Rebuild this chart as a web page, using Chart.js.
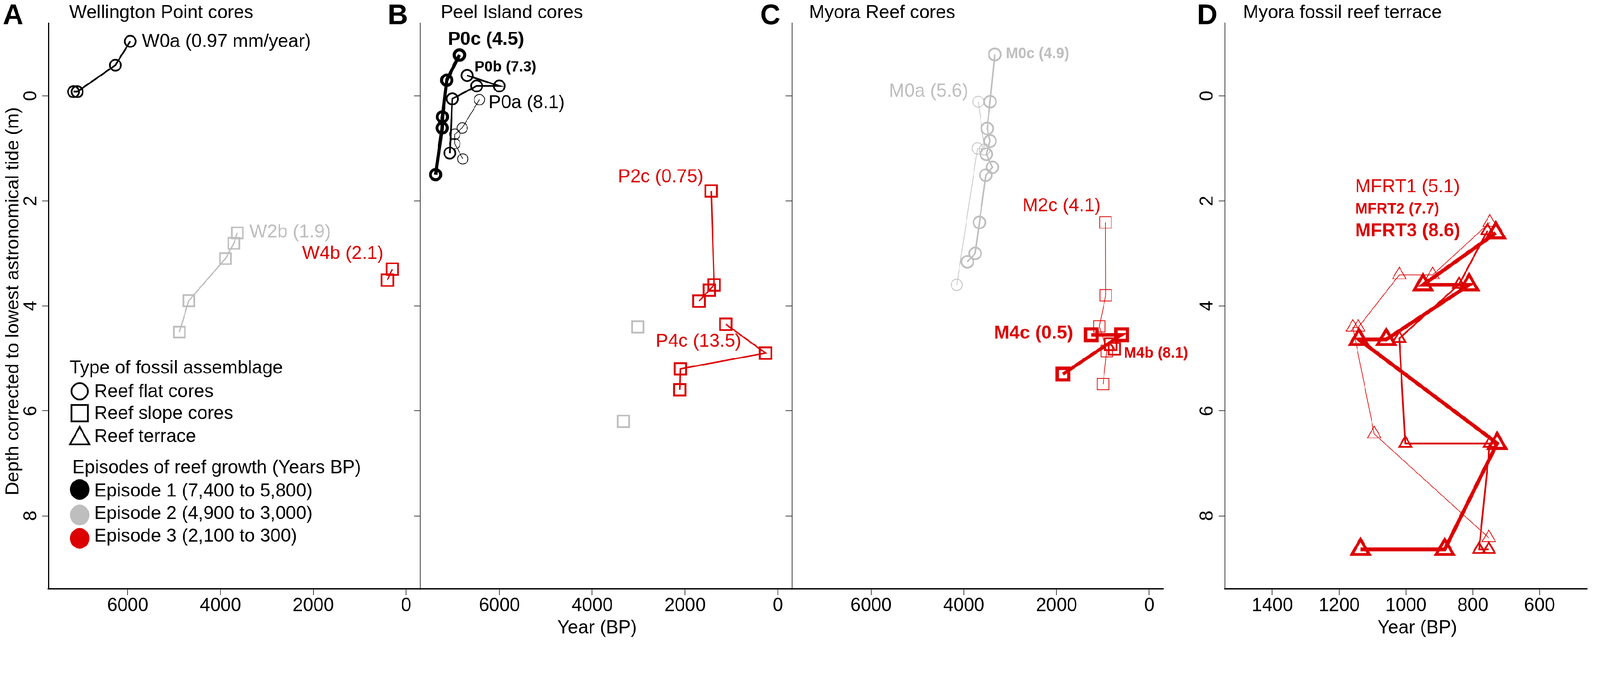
<!DOCTYPE html>
<html><head><meta charset="utf-8">
<script src="https://cdn.jsdelivr.net/npm/chart.js@4.4.1/dist/chart.umd.min.js"></script>
<style>
html,body{margin:0;padding:0;background:#fff;overflow:hidden}
#wrap{position:absolute;left:0;top:0;width:4317px;height:1731px;transform-origin:0 0}
canvas{position:absolute;left:0;top:0}
</style></head><body>
<div id="wrap">
<canvas id="cA" width="4317" height="1731"></canvas>
<canvas id="cB" width="4317" height="1731"></canvas>
<canvas id="cC" width="4317" height="1731"></canvas>
<canvas id="cD" width="4317" height="1731"></canvas>
</div>
<script>
// ---------- tick values / labels ----------
const coreYearTicks = [6000, 4000, 2000, 0];
const coreYearTickLabels = ['6000', '4000', '2000', '0'];
const terraceYearTicks = [1400, 1200, 1000, 800, 600];
const terraceYearTickLabels = ['1400', '1200', '1000', '800', '600'];
const depthTicks = [0, 2, 4, 6, 8];
const depthTickLabels = ['0', '2', '4', '6', '8'];

// ---------- A: Wellington Point cores ----------
const w0aYear = [5945, 6265, 7088, 7167];
const w0aDepth = [-1.04, -0.585, -0.08, -0.08];
const w2bYear = [3637, 3713, 3893, 4683, 4886];
const w2bDepth = [2.61, 2.81, 3.10, 3.90, 4.50];
const w4bYear = [299, 403];
const w4bDepth = [3.30, 3.51];

// ---------- B: Peel Island cores ----------
const p0cYear = [6861, 7135, 7228, 7233, 7375];
const p0cDepth = [-0.78, -0.30, 0.40, 0.61, 1.50];
const p0bYear = [6696, 6003, 6491, 7015, 7069];
const p0bDepth = [-0.39, -0.19, -0.19, 0.055, 1.09];
const p0aYear = [6430, 6802, 6962, 6962, 6789];
const p0aDepth = [0.07, 0.61, 0.73, 0.91, 1.20];
const p2cYear = [1438, 1373, 1477, 1699];
const p2cDepth = [1.81, 3.60, 3.70, 3.91];
const p4cYear = [1122, 265, 2100, 2113];
const p4cDepth = [4.35, 4.90, 5.20, 5.60];
const peelEp2Year = [3019, 3329];
const peelEp2Depth = [4.40, 6.20];

// ---------- C: Myora Reef cores ----------
const m0cYear = [3332, 3434, 3495, 3434, 3516, 3383, 3525, 3663, 3755, 3923];
const m0cDepth = [-0.79, 0.11, 0.62, 0.86, 1.11, 1.36, 1.51, 2.41, 3.00, 3.16];
const m0aYear = [3688, 3551, 3704, 4152];
const m0aDepth = [0.11, 1.02, 1.00, 3.60];
const m2cYear = [943, 938, 1076, 916, 996];
const m2cDepth = [2.41, 3.80, 4.39, 4.86, 5.49];
const m4cYear = [1249, 597, 1862];
const m4cDepth = [4.55, 4.55, 5.30];
const m4bYear = [832, 752];
const m4bDepth = [4.73, 4.82];

// ---------- D: Myora fossil reef terrace ----------
const mfrt1Year = [749, 920, 1020, 1143, 1159, 1095, 752];
const mfrt1Depth = [2.41, 3.41, 3.41, 4.41, 4.41, 6.44, 8.42];
const mfrt2Year = [756, 841, 1020, 1002, 749, 781, 752];
const mfrt2Depth = [2.57, 3.59, 4.62, 6.62, 6.62, 8.64, 8.64];
const mfrt3Year = [731, 949, 811, 1059, 1141, 727, 884, 1136];
const mfrt3Depth = [2.61, 3.60, 3.60, 4.64, 4.64, 6.62, 8.64, 8.64];

// ---------- styling ----------
const FONT = '"Liberation Sans", Arial, Helvetica, sans-serif';
const BLACK = '#000000', GRAY = '#BEBEBE', RED = '#DC0000';
const W = 4317, H = 1731;
const PLOT_TOP = 62, PLOT_BOTTOM = 1589;
const DEPTH_MIN = -1.39, DEPTH_MAX = 9.39;

(function fit() {
  const vw = document.documentElement.clientWidth || window.innerWidth || W;
  const vh = window.innerHeight || document.documentElement.clientHeight || H;
  const s = Math.min(vw / W, vh / H);
  if (s > 0 && Math.abs(s - 1) > 0.001) {
    document.getElementById('wrap').style.transform = 'scale(' + s + ')';
  }
})();

function font(size, bold) { return (bold ? 'bold ' : '') + size + 'px ' + FONT; }
function pts(xs, ys) { return xs.map((x, i) => ({x: x, y: ys[i]})); }
function ds(label, xs, ys, color, style, radius, markerW, lineW, showLine) {
  return {
    label: label, data: pts(xs, ys), showLine: showLine !== false,
    borderColor: color, borderWidth: lineW, backgroundColor: 'rgba(0,0,0,0)',
    pointStyle: style, pointRadius: radius, pointHoverRadius: radius,
    pointBorderWidth: markerW, pointBorderColor: color,
    pointBackgroundColor: 'rgba(0,0,0,0)', fill: false, tension: 0, clip: false
  };
}

const panels = [
  {
    id: 'cA', letter: 'A', letterX: 8, title: 'Wellington Point cores', titleX: 187,
    left: 131, right: 1134, xMin: -305, xMax: 7705, yBorder: 3, yLabels: true, yTitle: true, legend: true,
    xTicks: coreYearTicks, xTickLabels: coreYearTickLabels,
    datasets: [
      ds('W0a', w0aYear, w0aDepth, BLACK, 'circle', 15, 4.5, 4.5),
      ds('W2b', w2bYear, w2bDepth, GRAY, 'rect', 21, 4.5, 3.5),
      ds('W4b', w4bYear, w4bDepth, RED, 'rect', 22, 4.5, 3.5)
    ],
    labels: [
      {t: 'W0a (0.97 mm/year)', x: 5690, y: -1.03, c: BLACK, s: 50, b: false},
      {t: 'W2b (1.9)', x: 3374, y: 2.60, c: GRAY, s: 50, b: false},
      {t: 'W4b (2.1)', x: 2240, y: 3.01, c: RED, s: 50, b: false}
    ]
  },
  {
    id: 'cB', letter: 'B', letterX: 1046, title: 'Peel Island cores', titleX: 1189,
    left: 1134, right: 2137, xMin: -305, xMax: 7705, yBorder: 1.5,
    xTicks: coreYearTicks, xTickLabels: coreYearTickLabels, xTitle: 'Year (BP)', xTitleX: 1611,
    datasets: [
      ds('P0c', p0cYear, p0cDepth, BLACK, 'circle', 14, 8, 9),
      ds('P0b', p0bYear, p0bDepth, BLACK, 'circle', 15, 4.5, 4.5),
      ds('P0a', p0aYear, p0aDepth, BLACK, 'circle', 14, 2, 1.7),
      ds('P2c', p2cYear, p2cDepth, RED, 'rect', 22, 5, 4),
      ds('P4c', p4cYear, p4cDepth, RED, 'rect', 22, 5, 4),
      ds('Peel episode 2', peelEp2Year, peelEp2Depth, GRAY, 'rect', 22, 4.5, 3, false)
    ],
    labels: [
      {t: 'P0c (4.5)', x: 7111, y: -1.07, c: BLACK, s: 50, b: true},
      {t: 'P0b (7.3)', x: 6536, y: -0.54, c: BLACK, s: 40, b: true},
      {t: 'P0a (8.1)', x: 6233, y: 0.135, c: BLACK, s: 50, b: false},
      {t: 'P2c (0.75)', x: 3445, y: 1.55, c: RED, s: 50, b: false},
      {t: 'P4c (13.5)', x: 2631, y: 4.68, c: RED, s: 50, b: false}
    ]
  },
  {
    id: 'cC', letter: 'C', letterX: 2051, title: 'Myora Reef cores', titleX: 2183,
    left: 2137, right: 3139, xMin: -305, xMax: 7705, yBorder: 1.5,
    xTicks: coreYearTicks, xTickLabels: coreYearTickLabels,
    datasets: [
      ds('M4c', m4cYear, m4cDepth, RED, 'rect', 22, 9, 9),
      ds('M4b', m4bYear, m4bDepth, RED, 'rect', 22, 4.5, 4.5),
      ds('M2c', m2cYear, m2cDepth, RED, 'rect', 22, 2, 1.7),
      ds('M0c', m0cYear, m0cDepth, GRAY, 'circle', 16, 4.5, 4),
      ds('M0a', m0aYear, m0aDepth, GRAY, 'circle', 15, 2, 1.7)
    ],
    labels: [
      {t: 'M0c (4.9)', x: 3094, y: -0.80, c: GRAY, s: 40, b: true},
      {t: 'M0a (5.6)', x: 5614, y: -0.08, c: GRAY, s: 50, b: false},
      {t: 'M2c (4.1)', x: 2735, y: 2.10, c: RED, s: 50, b: false},
      {t: 'M4c (0.5)', x: 3350, y: 4.53, c: RED, s: 50, b: true},
      {t: 'M4b (8.1)', x: 547, y: 4.91, c: RED, s: 40, b: true}
    ]
  },
  {
    id: 'cD', letter: 'D', letterX: 3230, title: 'Myora fossil reef terrace', titleX: 3354,
    left: 3305, right: 4310, xMin: 458, xMax: 1542, yBorder: 1.5, yLabels: true,
    xTicks: terraceYearTicks, xTickLabels: terraceYearTickLabels, xTitle: 'Year (BP)', xTitleX: 3824,
    datasets: [
      ds('MFRT3', mfrt3Year, mfrt3Depth, RED, 'triangle', 27, 8, 10),
      ds('MFRT2', mfrt2Year, mfrt2Depth, RED, 'triangle', 19, 4.5, 4.5),
      ds('MFRT1', mfrt1Year, mfrt1Depth, RED, 'triangle', 21, 2, 1.7)
    ],
    labels: [
      {t: 'MFRT1 (5.1)', x: 1152, y: 1.74, c: RED, s: 50, b: false},
      {t: 'MFRT2 (7.7)', x: 1152, y: 2.16, c: RED, s: 40, b: true},
      {t: 'MFRT3 (8.6)', x: 1152, y: 2.58, c: RED, s: 50, b: true}
    ]
  }
];

function drawLegend(ctx) {
  ctx.save();
  ctx.fillStyle = BLACK; ctx.strokeStyle = BLACK; ctx.lineWidth = 4.5;
  ctx.font = font(50, false); ctx.textAlign = 'left'; ctx.textBaseline = 'middle';
  ctx.fillText('Type of fossil assemblage', 188, 994);
  ctx.beginPath(); ctx.arc(215, 1056, 22, 0, Math.PI * 2); ctx.stroke();
  ctx.fillText('Reef flat cores', 254, 1058);
  ctx.strokeRect(215 - 22, 1115 - 22, 44, 44);
  ctx.fillText('Reef slope cores', 254, 1117);
  ctx.beginPath(); ctx.moveTo(215, 1152); ctx.lineTo(241, 1199); ctx.lineTo(189, 1199); ctx.closePath(); ctx.stroke();
  ctx.fillText('Reef terrace', 254, 1179);
  ctx.fillText('Episodes of reef growth (Years BP)', 195, 1263);
  const eps = [[BLACK, 1321, 'Episode 1 (7,400 to 5,800)', 1326],
               [GRAY, 1390, 'Episode 2 (4,900 to 3,000)', 1387],
               [RED, 1453, 'Episode 3 (2,100 to 300)', 1448]];
  eps.forEach(e => {
    ctx.fillStyle = e[0]; ctx.beginPath(); ctx.ellipse(215, e[1], 26, 28, 0, 0, Math.PI * 2); ctx.fill();
    ctx.fillStyle = BLACK; ctx.fillText(e[2], 254, e[3]);
  });
  ctx.restore();
}

function drawPanelText(chart, p) {
  const ctx = chart.ctx, xs = chart.scales.x, ys = chart.scales.y;
  ctx.save();
  ctx.fillStyle = BLACK; ctx.textAlign = 'left'; ctx.textBaseline = 'alphabetic';
  ctx.font = font(76, true); ctx.fillText(p.letter, p.letterX, 65);
  ctx.font = font(50, false); ctx.fillText(p.title, p.titleX, 49);
  if (p.yLabels) {
    ctx.font = font(50, false); ctx.textAlign = 'center';
    depthTicks.forEach((v, i) => {
      const py = ys.getPixelForValue(v);
      ctx.save(); ctx.translate(chart.chartArea.left - 33, py); ctx.rotate(-Math.PI / 2);
      ctx.fillText(depthTickLabels[i], 0, 0); ctx.restore();
    });
  }
  if (p.yTitle) {
    ctx.save(); ctx.translate(50, 813); ctx.rotate(-Math.PI / 2);
    ctx.textAlign = 'center'; ctx.font = font(50, false);
    ctx.fillText('Depth corrected to lowest astronomical tide (m)', 0, 0); ctx.restore();
  }
  if (p.xTitle) {
    ctx.textAlign = 'center'; ctx.font = font(50, false);
    ctx.fillText(p.xTitle, p.xTitleX, 1709);
  }
  ctx.textAlign = 'left'; ctx.textBaseline = 'middle';
  p.labels.forEach(l => {
    ctx.font = font(l.s, l.b); ctx.fillStyle = l.c;
    ctx.fillText(l.t, xs.getPixelForValue(l.x), ys.getPixelForValue(l.y));
  });
  ctx.restore();
  if (p.legend) drawLegend(ctx);
}

panels.forEach(p => {
  new Chart(document.getElementById(p.id), {
    type: 'scatter',
    data: {datasets: p.datasets},
    options: {
      responsive: false, animation: false, devicePixelRatio: 1, events: [],
      layout: {padding: {left: p.left - 20, right: W - p.right, top: PLOT_TOP, bottom: 0}},
      plugins: {legend: {display: false}, tooltip: {enabled: false}, title: {display: false}},
      scales: {
        x: {
          type: 'linear', position: 'bottom', min: p.xMin, max: p.xMax, reverse: true,
          afterBuildTicks: s => { s.ticks = p.xTicks.map(v => ({value: v})); },
          afterFit: s => { s.height = H - PLOT_BOTTOM; },
          grid: {display: true, drawOnChartArea: false, drawTicks: true, tickLength: 17, tickWidth: 1.5, tickColor: BLACK},
          border: {display: true, color: BLACK, width: 3.5},
          ticks: {
            display: true, color: BLACK, font: {family: FONT, size: 50}, padding: -1,
            maxRotation: 0, minRotation: 0, autoSkip: false,
            callback: (v, i) => p.xTickLabels[i]
          }
        },
        y: {
          type: 'linear', position: 'left', min: DEPTH_MIN, max: DEPTH_MAX, reverse: true,
          afterBuildTicks: s => { s.ticks = depthTicks.map(v => ({value: v})); },
          afterFit: s => { s.width = 20; },
          grid: {display: true, drawOnChartArea: false, drawTicks: true, tickLength: 17, tickWidth: 1.5, tickColor: BLACK},
          border: {display: true, color: BLACK, width: p.yBorder},
          ticks: {display: false}
        }
      }
    },
    plugins: [{id: 'panelText' + p.letter, afterDraw: chart => drawPanelText(chart, p)}]
  });
});
</script>
</body></html>
